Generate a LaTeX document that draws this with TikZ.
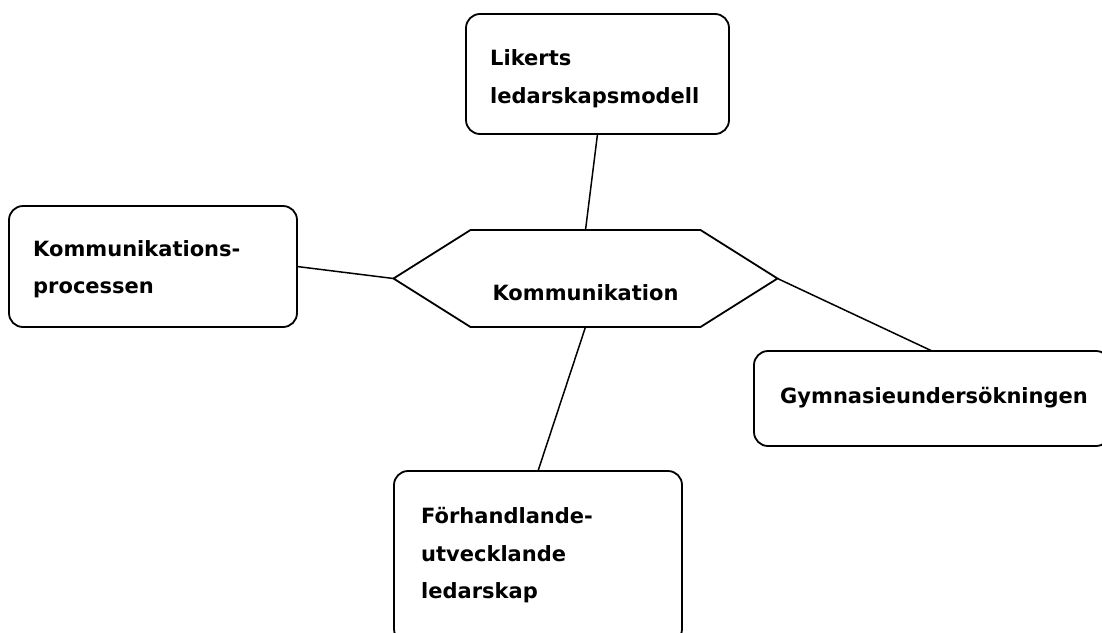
\documentclass[tikz,border=0pt]{standalone}
\usepackage{fontspec}
\setmainfont{DejaVu Sans}
\begin{document}
\begin{tikzpicture}[x=1pt,y=-1pt,
  box/.style={draw,line width=1.8pt,rounded corners=14pt,inner sep=0pt,outer sep=0pt},
  lbl/.style={anchor=base west,inner sep=0pt,font=\fontsize{21}{38}\selectfont\bfseries},
  clbl/.style={anchor=base,inner sep=0pt,font=\fontsize{21}{38}\selectfont\bfseries},
  link/.style={line width=1.5pt}]
\useasboundingbox (0,0) rectangle (1102,632);
% boxes
\node[box,minimum width=263pt,minimum height=120pt] (lik) at (597.5,74) {};
\node[box,minimum width=288pt,minimum height=121pt] (kp) at (153,266.5) {};
\node[box,minimum width=356pt,minimum height=95pt] (gym) at (932,398.5) {};
\node[box,minimum width=288pt,minimum height=172pt] (fh) at (538,557) {};
% hexagon
\node[inner sep=0pt,outer sep=0pt,minimum width=384pt,minimum height=97pt] (hex) at (585.5,278.5) {};
\draw[line width=1.8pt,line join=miter] (hex.west) -- ([xshift=77pt]hex.north west) -- ([xshift=-77pt]hex.north east)
  -- (hex.east) -- ([xshift=-77pt]hex.south east) -- ([xshift=77pt]hex.south west) -- cycle;
% texts
\node[clbl] (thex) at (585.5,300) {Kommunikation};
\node[lbl] (tlik1) at (490,65) {Likerts};
\node[lbl] (tlik2) at (490,103) {ledarskapsmodell};
\node[lbl] (tkp1) at (33,256) {Kommunikations-};
\node[lbl] (tkp2) at (33,293) {processen};
\node[lbl] (tgym) at (780,403) {Gymnasieundersökningen};
\node[lbl] (tfh1) at (421,523) {Förhandlande-};
\node[lbl] (tfh2) at (421,561) {utvecklande};
\node[lbl] (tfh3) at (421,598) {ledarskap};
% connectors
\draw[link] (lik.south) -- (hex.north);
\draw[link] (kp.east) -- (hex.west);
\draw[link] (hex.east) -- (gym.north);
\draw[link] (hex.south) -- (fh.north);
\end{tikzpicture}
\end{document}
